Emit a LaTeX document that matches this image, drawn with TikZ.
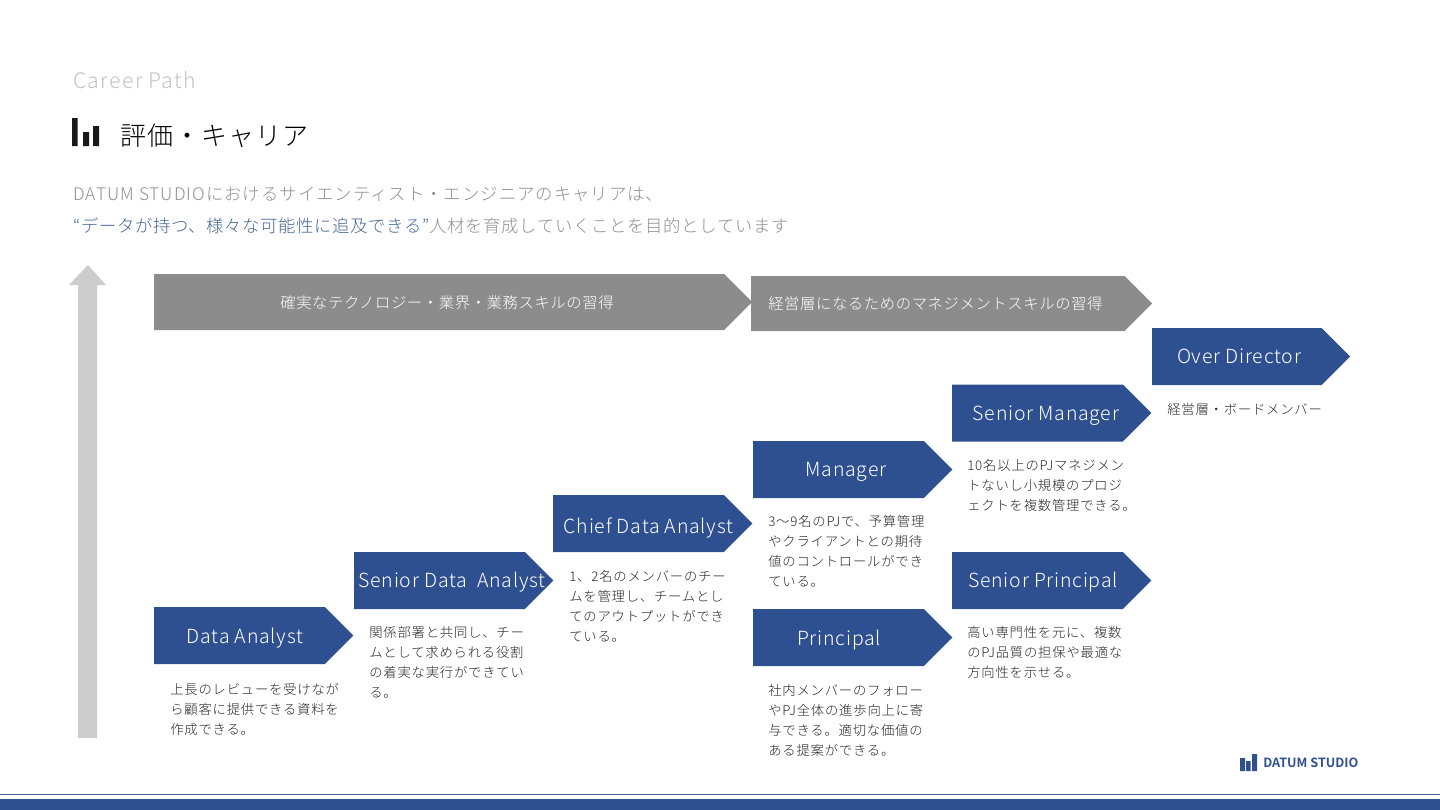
\documentclass[tikz,border=0pt]{standalone}
\usepackage{fontspec}
\setmainfont{Noto Sans CJK JP}[UprightFont=* Light,BoldFont=* Bold]
\newfontfamily\spaced{Noto Sans CJK JP}[UprightFont=* Light,LetterSpace=4]
\newfontfamily\widespaced{Noto Sans CJK JP}[UprightFont=* Light,LetterSpace=6]
\usetikzlibrary{positioning,shapes.symbols}
\definecolor{dsblue}{HTML}{2F5090}
\definecolor{dsgray}{HTML}{8C8C8C}
\definecolor{dsline}{HTML}{3F6690}
\definecolor{dslead}{HTML}{456596}
\definecolor{dstext}{HTML}{8E8E8E}
\definecolor{dspale}{HTML}{CCCCCC}
\definecolor{dscareer}{HTML}{C2C2C2}
\begin{document}
\begin{tikzpicture}[
  x=0.75pt, y=-0.75pt,
  shaft/.style={draw=none, shape=signal, signal to=east, signal from=nowhere, signal pointer angle=90, anchor=west, inner sep=0pt, outer sep=0pt, minimum height=42.75pt},
  bluearrow/.style={shaft, fill=dsblue, minimum width=149.5pt},
  grayarrow/.style={shaft, fill=dsgray},
  role/.style={text=white, inner sep=0pt, font=\spaced\fontsize{14.6}{18}\selectfont},
  band/.style={text=white, inner sep=0pt, font=\spaced\fontsize{11.5}{14}\selectfont},
  desc/.style={anchor=north west, inner sep=0pt, align=left, text=black!85, font=\widespaced\fontsize{10}{15}\selectfont},
  lead/.style={anchor=west, inner sep=0pt, text=dstext, font=\spaced\fontsize{13}{16}\selectfont}
]
\useasboundingbox (0,0) rectangle (1440,810);

% header
\node[anchor=west, inner sep=0pt, text=dscareer, font=\widespaced\fontsize{16}{18}\selectfont] (career) at (73,80) {Career Path};
\fill[black!90] (72,118) rectangle (77.5,146) (83,132) rectangle (89,146) (93,126) rectangle (99,146);
\node[anchor=west, inner sep=0pt, text=black, font=\spaced\fontsize{19.5}{24}\selectfont] (heading) at (120.5,135.5) {評価・キャリア};
\node[lead, font=\widespaced\fontsize{13}{16}\selectfont] (lead1) at (73,194) {DATUM STUDIOにおけるサイエンティスト・エンジニアのキャリアは、};
\node[lead] (lead2) at (73,226) {\textcolor{dslead}{“データが持つ、様々な可能性に追及できる”}人材を育成していくことを目的としています};

% growth arrow
\fill[dspale] (88,265) -- (106,285) -- (97,285) -- (97,738) -- (78,738) -- (78,285) -- (69,285) -- cycle;

% skill bands
\node[grayarrow, minimum width=448.5pt, minimum height=42pt] (tech) at (154,302) {};
\node[band] (techtext) at (447,303) {確実なテクノロジー・業界・業務スキルの習得};
\node[grayarrow, minimum width=300.75pt, minimum height=41.25pt] (mgmt) at (751,303.5) {};
\node[band, anchor=west] (mgmttext) at (768,304) {経営層になるためのマネジメントスキルの習得};

% roles
\node[bluearrow] (da) at (154,635.5) {};
\node[role] (datext) at (245,638) {Data Analyst};
\node[bluearrow] (sda) at (354,580.5) {};
\node[role] (sdatext) at (452,582) {Senior Data\ \ Analyst};
\node[bluearrow] (cda) at (553,523.5) {};
\node[role] (cdatext) at (648.5,528) {Chief Data Analyst};
\node[bluearrow] (mgr) at (753,469.5) {};
\node[role] (mgrtext) at (846,472) {Manager};
\node[bluearrow] (pri) at (753,637.5) {};
\node[role] (pritext) at (839,640) {Principal};
\node[bluearrow] (smgr) at (952,413) {};
\node[role] (smgrtext) at (1046,415.5) {Senior Manager};
\node[bluearrow] (spri) at (952,580.5) {};
\node[role] (spritext) at (1043,582) {Senior Principal};
\node[bluearrow, minimum width=148.5pt] (dir) at (1152,356.5) {};
\node[role] (dirtext) at (1239,356.5) {Over Director};

% descriptions
\node[desc] (dadesc) at (170,683) {上長のレビューを受けなが\\ら顧客に提供できる資料を\\作成できる。};
\node[desc] (sdadesc) at (369,626) {関係部署と共同し、チー\\ムとして求められる役割\\の着実な実行ができてい\\る。};
\node[desc] (cdadesc) at (569,570) {1、2名のメンバーのチー\\ムを管理し、チームとし\\てのアウトプットができ\\ている。};
\node[desc] (mgrdesc) at (768,515) {3〜9名のPJで、予算管理\\やクライアントとの期待\\値のコントロールができ\\ている。};
\node[desc] (pridesc) at (768,684) {社内メンバーのフォロー\\やPJ全体の進歩向上に寄\\与できる。適切な価値の\\ある提案ができる。};
\node[desc] (smgrdesc) at (967,459) {10名以上のPJマネジメン\\トないし小規模のプロジ\\ェクトを複数管理できる。};
\node[desc] (spridesc) at (967,626) {高い専門性を元に、複数\\のPJ品質の担保や最適な\\方向性を示せる。};
\node[desc] (dirdesc) at (1167,403) {経営層・ボードメンバー};

% footer
\fill[dsblue] (1240,758) rectangle (1245,771) (1246,761) rectangle (1250.5,771) (1252,754) rectangle (1257,771);
\node[anchor=west, inner sep=0pt, text=dsblue, font=\bfseries\fontsize{9.5}{11}\selectfont] (logo) at (1263,763) {DATUM STUDIO};
\fill[dsline] (0,793.5) rectangle (1440,795);
\fill[dsblue] (0,799) rectangle (1440,810);
\end{tikzpicture}
\end{document}
